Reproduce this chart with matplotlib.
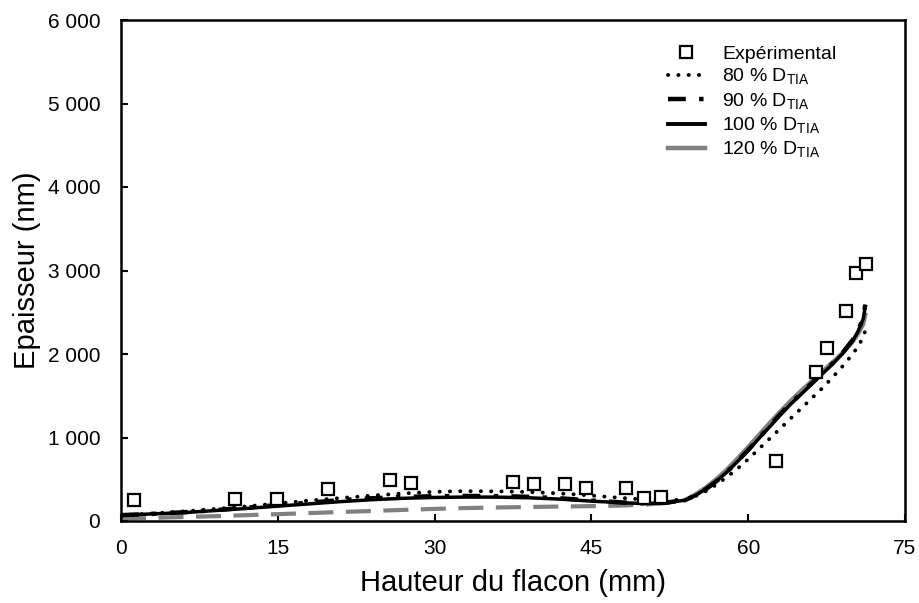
import matplotlib
matplotlib.use("Agg")
import matplotlib.pyplot as plt
from matplotlib.ticker import FuncFormatter

plt.rcParams['font.family'] = ['Liberation Sans', 'DejaVu Sans']
plt.rcParams['mathtext.fontset'] = 'custom'
plt.rcParams['mathtext.rm'] = 'Liberation Sans'

# Experimental data
exp_x = [1.2, 10.9, 14.9, 19.8, 25.7, 27.7, 37.5, 39.5, 42.5, 44.5, 48.3, 50.0, 51.7,
         62.7, 66.5, 67.5, 69.4, 70.3, 71.3]
exp_y = [250, 263, 263, 383, 491, 455, 467, 443, 443, 395, 395, 275, 287,
         719, 1784, 2072, 2515, 2970, 3078]

# Model curves
x_mod = [0, 3, 6, 9, 12, 15, 18, 21, 24, 27, 30, 33, 36, 39, 42, 45, 48, 50, 52, 54,
         55, 56, 57, 58, 59, 60, 61, 62, 63, 64, 65, 66, 67, 68, 69, 70, 70.5, 71, 71.2]
y80 = [70, 90, 115, 145, 175, 210, 245, 275, 305, 330, 350, 358, 355, 348, 330, 305, 275, 258, 250, 255,
       300, 360, 440, 530, 630, 740, 860, 980, 1100, 1220, 1340, 1460, 1580, 1710, 1850, 2000, 2090, 2200, 2280]
y90 = [70, 85, 105, 130, 160, 190, 220, 250, 272, 288, 297, 300, 298, 290, 272, 245, 222, 212, 218, 250,
       310, 385, 480, 590, 720, 850, 990, 1130, 1270, 1400, 1520, 1640, 1760, 1880, 2010, 2170, 2280, 2430, 2590]
y100 = [70, 85, 100, 125, 150, 178, 205, 232, 255, 272, 282, 287, 286, 278, 262, 238, 218, 210, 215, 250,
        310, 385, 480, 590, 715, 845, 985, 1120, 1260, 1390, 1510, 1630, 1750, 1870, 2000, 2160, 2270, 2420, 2570]
y120 = [30, 38, 48, 58, 70, 82, 95, 108, 120, 133, 145, 155, 162, 168, 173, 178, 185, 195, 215, 250,
        320, 405, 505, 620, 750, 885, 1025, 1165, 1300, 1430, 1550, 1665, 1780, 1890, 2010, 2150, 2240, 2360, 2470]

x_ticks = [0, 15, 30, 45, 60, 75]
y_ticks = [0, 1000, 2000, 3000, 4000, 5000, 6000]

fig = plt.figure(figsize=(9.19, 6.03), dpi=100)
ax = fig.add_axes([121/919, 1-521/603, (905-121)/919, (521-20)/603])

split = 19  # index of x=54
dot_ls = (0, (0.05, 2.6))
ax.plot(x_mod[:split+1], y120[:split+1], color='#808080', lw=3, dashes=(6, 3), zorder=2)
ax.plot(x_mod[split:], y120[split:], color='#808080', lw=3.2, zorder=2)
ax.plot(x_mod, y100, color='black', lw=2.5, zorder=3)
ax.plot(x_mod, y90, color='black', lw=3.2, dashes=(4, 3, 1, 3), zorder=3)
ax.plot(x_mod, y80, color='black', lw=2.8, ls=dot_ls, dash_capstyle='round', zorder=3)
ax.plot(exp_x, exp_y, ls='none', marker='s', ms=9, mfc='white', mec='black', mew=1.6, zorder=4)

# legend handles
h_exp, = ax.plot([], [], ls='none', marker='s', ms=8, mfc='white', mec='black', mew=1.6)
h80, = ax.plot([], [], color='black', lw=2.8, ls=dot_ls, dash_capstyle='round')
h90, = ax.plot([], [], color='black', lw=3.2, dashes=(4, 3, 1, 3))
h100, = ax.plot([], [], color='black', lw=2.8)
h120, = ax.plot([], [], color='#808080', lw=3.2)
ax.legend([h_exp, h80, h90, h100, h120],
          ['Expérimental', r'80 % D$_{\mathrm{TIA}}$', r'90 % D$_{\mathrm{TIA}}$',
           r'100 % D$_{\mathrm{TIA}}$', r'120 % D$_{\mathrm{TIA}}$'],
          frameon=False, loc='upper left', bbox_to_anchor=(0.675, 0.984),
          fontsize=14, handlelength=1.9, labelspacing=0.2, handletextpad=0.9)

ax.set_xlim(0, 75)
ax.set_ylim(0, 6000)
ax.set_xticks(x_ticks)
ax.set_yticks(y_ticks)
ax.yaxis.set_major_formatter(FuncFormatter(lambda v, p: f"{int(v):,}".replace(",", " ")))
ax.tick_params(direction='in', length=5, width=1.5, labelsize=15)
ax.tick_params(axis='x', pad=13)
ax.tick_params(axis='y', pad=15)
for s in ax.spines.values():
    s.set_linewidth(1.8)
ax.set_xlabel('Hauteur du flacon (mm)', fontsize=21, labelpad=8)
ax.set_ylabel('Epaisseur (nm)', fontsize=21, labelpad=5)

fig.savefig('out.png', dpi=100)
